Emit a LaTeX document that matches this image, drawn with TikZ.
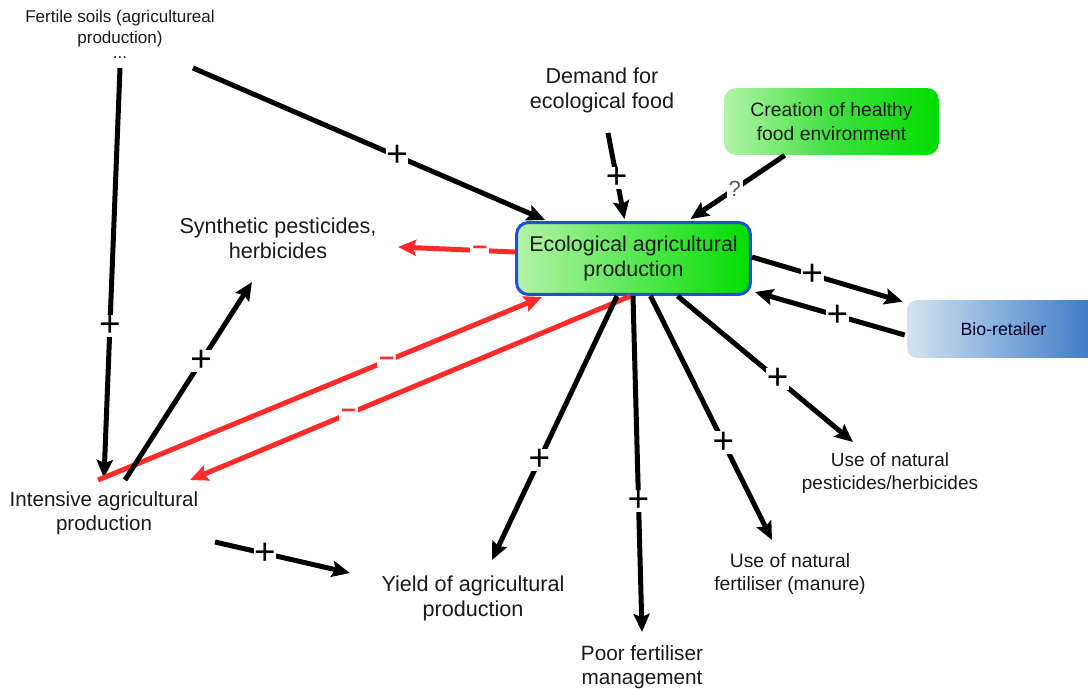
\documentclass[tikz,border=0pt]{standalone}
\usepackage{fontspec}
\setmainfont{Liberation Sans}
\usetikzlibrary{arrows.meta,calc}
\definecolor{txt}{HTML}{1A1A1A}
\definecolor{redc}{HTML}{FF2B2B}
\definecolor{ecoborder}{HTML}{1F4FE0}
\definecolor{gl}{HTML}{B4F3A8}
\definecolor{gm}{HTML}{40E040}
\definecolor{gd}{HTML}{00DD00}
\definecolor{bl}{HTML}{D3E4F3}
\definecolor{bd}{HTML}{3576C4}
\begin{document}
\begin{tikzpicture}[x=0.02cm,y=-0.02cm,
  lbl/.style={text=txt,align=center,inner sep=0pt},
  big/.style={font=\fontsize{12.3}{14.2}\selectfont},
  mid/.style={font=\fontsize{10.8}{12.8}\selectfont},
  conn/.style={line width=0.1cm,draw=black,-{Stealth[length=0.36cm,width=0.32cm,inset=0.06cm]}},
  negconn/.style={conn,draw=redc},
  plus/.style={fill=white,inner sep=0.3pt,text=black,font=\fontsize{21}{21}\selectfont},
  minus/.style={fill=white,inner sep=1.2pt,text=redc,font=\bfseries\fontsize{15}{15}\selectfont},
  qmark/.style={fill=white,inner sep=1pt,text=black!65,font=\fontsize{12.5}{13}\selectfont}]
\useasboundingbox (0,0) rectangle (1088,689);

% nodes
\node[lbl,font=\fontsize{9.7}{11.9}\selectfont] (fert) at (120,29) {Fertile soils (agricultureal\\production)};
\node[lbl,font=\fontsize{9.7}{10}\selectfont] (fdots) at (120,58) {...};
\node[lbl,big] (dem) at (602,90) {Demand for\\ecological food};
\node[lbl,font=\fontsize{11}{13.6}\selectfont,rounded corners=0.24cm,left color=gl,right color=gd,middle color=gm,
      minimum width=4.3cm,minimum height=1.34cm] (cre) at (831.5,121.5) {Creation of healthy\\food environment};
\node[lbl,font=\fontsize{12.2}{14.2}\selectfont,rounded corners=0.24cm,left color=gl,middle color=gm,right color=gd,
      draw=ecoborder,line width=0.06cm,minimum width=4.68cm,minimum height=1.44cm] (eco) at (633.5,258.5) {Ecological agricultural\\production};
\node[lbl,big] (syn) at (278,238) {Synthetic pesticides,\\herbicides};
\node[lbl,text=black!85!blue,font=\fontsize{10.1}{12}\selectfont,rounded corners=0.2cm,left color=bl,right color=bd,
      minimum width=3.86cm,minimum height=1.16cm] (bio) at (1003.5,329) {Bio-retailer};
\node[lbl,mid] (upest) at (890,473) {Use of natural\\pesticides/herbicides};
\node[lbl,font=\fontsize{11}{13.5}\selectfont] (ufert) at (790,574) {Use of natural\\fertiliser (manure)};
\node[lbl,font=\fontsize{11.8}{13.8}\selectfont] (poor) at (642,667) {Poor fertiliser\\management};
\node[lbl,big] (yield) at (473,598) {Yield of agricultural\\production};
\node[lbl,font=\fontsize{11.7}{13.8}\selectfont] (int) at (104,513) {Intensive agricultural\\production};

% connectors
\draw[conn] ($(fert)+(0,39)$) -- node[plus,pos=0.63]{+} ($(int)+(0,-35)$);
\draw[conn] ($(fert)+(73,39)$) -- node[plus,pos=0.58]{+} ($(eco.north west)+(30,-1)$);
\draw[conn] ($(dem)+(6,43)$) -- node[plus,pos=0.52]{+} ($(eco.north)+(-9,-2)$);
\draw[conn] ($(cre.south west)+(61,0)$) -- node[qmark,pos=0.53]{?} ($(eco.north)+(57,-2)$);
\draw[negconn] ($(eco.west)+(0,-6.5)$) -- node[minus,pos=0.3]{–} ($(syn)+(120,9)$);
\draw[negconn] ($(int)+(-6,-33)$) -- node[minus,pos=0.65]{–} ($(eco.south west)+(27,1)$);
\draw[negconn] ($(eco.south)+(-3,0)$) -- node[minus,pos=0.64]{–} ($(int)+(86,-33)$);
\draw[conn] ($(int)+(21,-33)$) -- node[plus,pos=0.6]{+} ($(syn)+(-26,44)$);
\draw[conn] ($(int)+(111,29)$) -- node[plus,pos=0.37]{+} ($(yield)+(-123,-25)$);
\draw[conn] ($(eco.south)+(-16.5,0)$) -- node[plus,pos=0.62]{+} ($(yield)+(19,-38)$);
\draw[conn] ($(eco.south)+(-0.5,0)$) -- node[plus,pos=0.61]{+} ($(poor)+(0,-35)$);
\draw[conn] ($(eco.south)+(17,0)$) -- node[plus,pos=0.6]{+} ($(ufert)+(-18,-34)$);
\draw[conn] ($(eco.south)+(44,0)$) -- node[plus,pos=0.57]{+} ($(upest)+(-37,-31)$);
\draw[conn] ($(eco.east)+(0,-1.5)$) -- node[plus,pos=0.4]{+} ($(bio.north west)+(-4,2)$);
\draw[conn] ($(bio.west)+(-2,6)$) -- node[plus,pos=0.45]{+} ($(eco.south east)+(3,-4)$);
\end{tikzpicture}
\end{document}
